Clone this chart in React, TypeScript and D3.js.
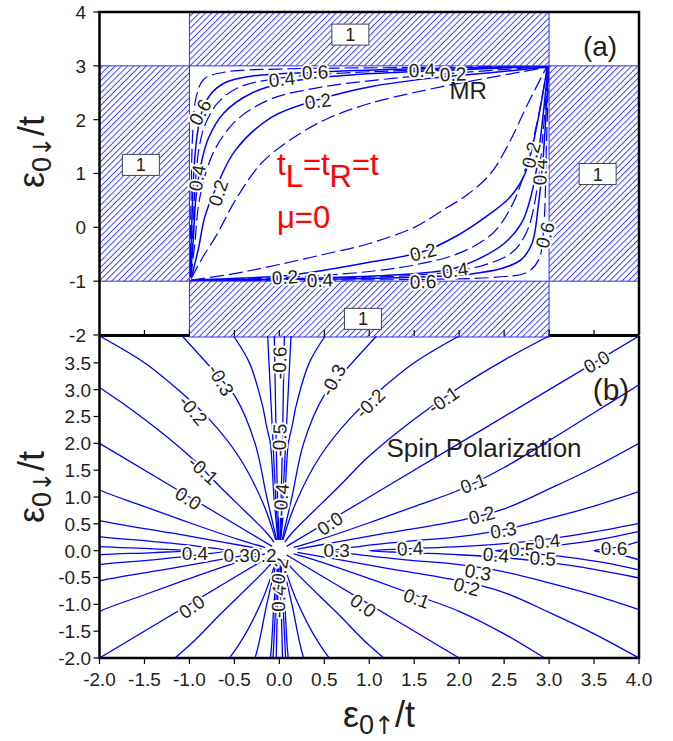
import React from "react";
import * as d3 from "d3";

type Pt = [number, number];

// ---------- axis ticks ----------
const xTickValues = [-2, -1.5, -1, -0.5, 0, 0.5, 1, 1.5, 2, 2.5, 3, 3.5, 4];
const xTickLabels = ["-2.0", "-1.5", "-1.0", "-0.5", "0.0", "0.5", "1.0", "1.5", "2.0", "2.5", "3.0", "3.5", "4.0"];
const yTickValuesA = [4, 3, 2, 1, 0, -1, -2];
const yTickLabelsA = ["4", "3", "2", "1", "0", "-1", "-2"];
const yTickValuesB = [3.5, 3, 2.5, 2, 1.5, 1, 0.5, 0, -0.5, -1, -1.5, -2];
const yTickLabelsB = ["3.5", "3.0", "2.5", "2.0", "1.5", "1.0", "0.5", "0.0", "-0.5", "-1.0", "-1.5", "-2.0"];

// ---------- panel (a): MR ----------
// regions where MR = 1 (ε0↑ range, ε0↓ range)
const mrSaturated = [
  { x0: -1, x1: 3, y0: 3, y1: 4 },
  { x0: -2, x1: -1, y0: -1, y1: 3 },
  { x0: 3, x1: 4, y0: -1, y1: 3 },
  { x0: -1, x1: 3, y0: -2, y1: -1 },
];
const mrSaturatedTags: { x: number; y: number; text: string }[] = [
  { x: 0.79, y: 3.58, text: "1" },
  { x: -1.54, y: 1.16, text: "1" },
  { x: 3.54, y: 0.99, text: "1" },
  { x: 0.93, y: -1.7, text: "1" },
];

// MR contours bending round the corner (ε0↑, ε0↓) = (-1, 3)
const mrUpperLeft: { level: number; pts: Pt[] }[] = [
  { level: 0.1, pts: [[-0.98, -0.95], [-0.85, -0.55], [-0.7, -0.15], [-0.49, 0.5], [-0.2, 1.19], [0.17, 1.68], [0.55, 2.03], [1.0, 2.3], [1.6, 2.54], [2.3, 2.77], [2.97, 2.97]] },
  { level: 0.2, pts: [[-0.98, -0.94], [-0.9, -0.4], [-0.83, 0.19], [-0.7, 0.75], [-0.49, 1.43], [-0.08, 2.05], [0.43, 2.37], [1.04, 2.62], [1.68, 2.77], [2.4, 2.88], [2.98, 2.98]] },
  { level: 0.3, pts: [[-0.985, -0.93], [-0.94, -0.3], [-0.9, 0.4], [-0.82, 1.0], [-0.7, 1.5], [-0.47, 2.0], [-0.1, 2.38], [0.45, 2.6], [1.1, 2.74], [1.9, 2.86], [2.985, 2.985]] },
  { level: 0.4, pts: [[-0.99, -0.92], [-0.96, -0.3], [-0.93, 0.5], [-0.88, 1.1], [-0.79, 1.65], [-0.62, 2.12], [-0.3, 2.5], [0.1, 2.7], [0.8, 2.83], [1.6, 2.9], [2.99, 2.99]] },
  { level: 0.5, pts: [[-0.99, -0.92], [-0.965, -0.2], [-0.935, 0.8], [-0.89, 1.5], [-0.82, 1.93], [-0.68, 2.32], [-0.45, 2.6], [-0.05, 2.76], [0.7, 2.865], [1.7, 2.93], [2.993, 2.993]] },
  { level: 0.6, pts: [[-0.994, -0.92], [-0.975, 0.0], [-0.952, 1.0], [-0.915, 1.7], [-0.865, 2.13], [-0.76, 2.48], [-0.6, 2.69], [-0.3, 2.81], [0.4, 2.88], [1.2, 2.93], [2.996, 2.996]] },
  { level: 0.7, pts: [[-0.997, -0.92], [-0.982, 0.5], [-0.962, 1.8], [-0.925, 2.42], [-0.84, 2.75], [-0.6, 2.885], [0.0, 2.94], [1.5, 2.97], [2.998, 2.998]] },
];

// MR contours bending round the corner (ε0↑, ε0↓) = (3, -1)
const mrLowerRight: { level: number; pts: Pt[] }[] = [
  { level: 0.1, pts: [[-0.98, -0.98], [-0.5, -0.86], [-0.03, -0.7], [0.5, -0.5], [1.0, -0.3], [1.5, 0.0], [1.8, 0.3], [2.1, 0.62], [2.35, 1.0], [2.55, 1.55], [2.75, 2.25], [2.97, 2.97]] },
  { level: 0.2, pts: [[-0.98, -0.98], [-0.4, -0.94], [0.06, -0.9], [0.6, -0.77], [1.0, -0.65], [1.6, -0.45], [1.95, -0.18], [2.3, 0.2], [2.56, 0.55], [2.72, 0.95], [2.8, 1.4], [2.9, 2.2], [2.98, 2.98]] },
  { level: 0.3, pts: [[-0.985, -0.985], [-0.3, -0.955], [0.4, -0.9], [1.0, -0.82], [1.5, -0.7], [2.0, -0.48], [2.38, -0.1], [2.6, 0.45], [2.74, 1.1], [2.86, 1.9], [2.985, 2.985]] },
  { level: 0.4, pts: [[-0.99, -0.99], [-0.3, -0.97], [0.45, -0.94], [1.1, -0.9], [1.65, -0.84], [1.95, -0.76], [2.2, -0.6], [2.5, -0.3], [2.7, 0.1], [2.83, 0.8], [2.9, 1.6], [2.99, 2.99]] },
  { level: 0.5, pts: [[-0.993, -0.99], [-0.2, -0.965], [0.8, -0.935], [1.5, -0.89], [1.93, -0.82], [2.32, -0.68], [2.6, -0.45], [2.76, -0.05], [2.865, 0.7], [2.93, 1.7], [2.993, 2.993]] },
  { level: 0.6, pts: [[-0.996, -0.994], [0.0, -0.975], [1.0, -0.952], [1.7, -0.915], [2.13, -0.865], [2.48, -0.76], [2.69, -0.6], [2.81, -0.3], [2.88, 0.4], [2.93, 1.2], [2.996, 2.996]] },
  { level: 0.7, pts: [[-0.998, -0.997], [0.5, -0.982], [1.8, -0.962], [2.42, -0.925], [2.75, -0.84], [2.885, -0.6], [2.94, 0.0], [2.97, 1.5], [2.998, 2.998]] },
];

// contour value labels for panel (a): [ε0↑, ε0↓, angle]
const mrLabels: { text: string; x: number; y: number; angle: number }[] = [
  { text: "0.6", x: -0.882, y: 2.14, angle: -62 },
  { text: "0.4", x: -0.916, y: 0.92, angle: -80 },
  { text: "0.2", x: -0.682, y: 0.64, angle: -72 },
  { text: "0.4", x: 0.03, y: 2.755, angle: -6 },
  { text: "0.6", x: 0.397, y: 2.885, angle: -3 },
  { text: "0.2", x: 0.43, y: 2.347, angle: -8 },
  { text: "0.4", x: 1.587, y: 2.923, angle: -2 },
  { text: "0.2", x: 1.932, y: 2.848, angle: -2 },
  { text: "0.2", x: 0.063, y: -0.923, angle: -4 },
  { text: "0.4", x: 0.452, y: -0.979, angle: -2 },
  { text: "0.2", x: 1.598, y: -0.459, angle: -14 },
  { text: "0.4", x: 1.954, y: -0.793, angle: -8 },
  { text: "0.6", x: 1.598, y: -1.005, angle: -2 },
  { text: "0.6", x: 2.954, y: -0.143, angle: -75 },
  { text: "0.4", x: 2.899, y: 1.028, angle: -88 },
  { text: "0.2", x: 2.799, y: 1.343, angle: -75 },
];

// ---------- panel (b): spin polarization ----------
// contours in the quadrant ε0↑ ≥ 0, ε0↓ ≥ 0; the map is even in both energies
// "ridge" contours close on the ε0↓ = 0 axis
const spQuadrant: { level: number; ridge: boolean; pts: Pt[] }[] = [
  { level: -0.6, ridge: false, pts: [[0.005, 0.2], [0.02, 1.0], [0.035, 2.0], [0.045, 3.0], [0.056, 4.0]] },
  { level: -0.5, ridge: false, pts: [[0.01, 0.2], [0.04, 1.0], [0.07, 2.0], [0.1, 3.0], [0.13, 4.0]] },
  { level: -0.4, ridge: false, pts: [[0.015, 0.2], [0.06, 1.0], [0.1, 2.0], [0.14, 2.3], [0.19, 2.72], [0.33, 3.49], [0.51, 4.0]] },
  { level: -0.3, ridge: false, pts: [[0.03, 0.2], [0.14, 1.0], [0.27, 2.0], [0.49, 2.87], [0.64, 3.18], [1.08, 4.0]] },
  { level: -0.2, ridge: false, pts: [[0.04, 0.2], [0.18, 0.88], [0.45, 1.75], [0.79, 2.47], [1.1, 2.96], [1.5, 3.5], [2.0, 4.0]] },
  { level: -0.1, ridge: false, pts: [[0.06, 0.16], [0.14, 0.33], [0.66, 1.19], [0.99, 1.75], [1.5, 2.45], [2.0, 3.04], [2.5, 3.55], [3.0, 4.0]] },
  { level: 0.0, ridge: false, pts: [[0.08, 0.08], [1.0, 1.0], [2.0, 2.0], [4.0, 4.0]] },
  { level: 0.1, ridge: false, pts: [[0.16, 0.06], [0.44, 0.2], [1.0, 0.52], [1.53, 0.84], [2.0, 1.13], [2.5, 1.55], [3.0, 2.05], [3.5, 2.57], [4.0, 3.09]] },
  { level: 0.2, ridge: false, pts: [[0.2, 0.03], [0.6, 0.15], [1.2, 0.33], [2.0, 0.56], [2.5, 0.78], [3.0, 1.15], [3.5, 1.55], [4.0, 2.0]] },
  { level: 0.3, ridge: true, pts: [[0.6, 0.0], [0.9, 0.08], [1.4, 0.17], [2.0, 0.26], [2.49, 0.39], [3.0, 0.6], [3.5, 0.83], [4.0, 1.1]] },
  { level: 0.4, ridge: true, pts: [[1.0, 0.0], [1.4, 0.035], [2.0, 0.076], [2.5, 0.13], [3.0, 0.22], [3.5, 0.35], [4.0, 0.51]] },
  { level: 0.5, ridge: true, pts: [[2.4, 0.0], [2.8, 0.05], [3.2, 0.12], [3.6, 0.22], [4.0, 0.36]] },
  { level: 0.6, ridge: true, pts: [[3.5, 0.0], [3.75, 0.06], [4.0, 0.17]] },
];

const spLabels: { text: string; x: number; y: number; angle: number }[] = [
  { text: "-0.3", x: -0.649, y: 3.18, angle: 60 },
  { text: "-0.2", x: -0.957, y: 2.62, angle: 50 },
  { text: "-0.1", x: -0.846, y: 1.5, angle: 42 },
  { text: "0.0", x: -1.012, y: 0.976, angle: 32 },
  { text: "-0.6", x: 0.0, y: 3.5, angle: -88 },
  { text: "-0.5", x: 0.0, y: 2.06, angle: -88 },
  { text: "-0.4", x: 0.018, y: 0.944, angle: -85 },
  { text: "-0.3", x: 0.597, y: 3.18, angle: -62 },
  { text: "-0.2", x: 1.008, y: 2.746, angle: -45 },
  { text: "-0.1", x: 1.823, y: 2.81, angle: -35 },
  { text: "0.0", x: 3.529, y: 3.52, angle: -30 },
  { text: "0.0", x: 0.563, y: 0.51, angle: -35 },
  { text: "0.1", x: 2.157, y: 1.256, angle: -20 },
  { text: "0.2", x: 2.25, y: 0.665, angle: -15 },
  { text: "0.3", x: 2.49, y: 0.385, angle: -10 },
  { text: "0.4", x: 2.977, y: 0.18, angle: -5 },
  { text: "0.3", x: 0.638, y: 0.015, angle: 0 },
  { text: "0.4", x: 1.453, y: 0.044, angle: -3 },
  { text: "0.3", x: 2.21, y: -0.4, angle: 10 },
  { text: "0.4", x: 2.41, y: -0.08, angle: 5 },
  { text: "0.5", x: 2.7, y: 0.03, angle: 0 },
  { text: "0.5", x: 2.93, y: -0.14, angle: 3 },
  { text: "0.6", x: 3.722, y: 0.05, angle: 0 },
  { text: "0.2", x: 2.084, y: -0.67, angle: 15 },
  { text: "0.1", x: 1.528, y: -0.887, angle: 20 },
  { text: "0.0", x: 0.934, y: -1.02, angle: 35 },
  { text: "0.0", x: -0.975, y: -1.044, angle: -35 },
  { text: "-0.4", x: -0.011, y: -0.95, angle: -88 },
  { text: "-0.2", x: -0.004, y: -0.435, angle: -80 },
  { text: "0.4", x: -0.938, y: -0.05, angle: 0 },
  { text: "0.3", x: -0.474, y: -0.08, angle: 0 },
  { text: "0.2", x: -0.178, y: -0.08, angle: 0 },
];

// ---------- layout ----------
const W = 673;
const H = 741;
const LEFT = 99.5;
const RIGHT = 639;
const A_TOP = 12;
const A_BOTTOM = 335;
const B_TOP = 336;
const B_BOTTOM = 658;

const FONT = "'Liberation Sans', Arial, Helvetica, sans-serif";
const ARROW_FONT = "'DejaVu Sans', sans-serif";
const INK = "#231f20";
const BLUE = "#0000ff";
const HATCH = "#2f2fff";
const HATCH_STEP = 4.4;

const x = d3.scaleLinear().domain([-2, 4]).range([LEFT, RIGHT]);
const yA = d3.scaleLinear().domain([-2, 4]).range([A_BOTTOM, A_TOP]);
const yB = d3.scaleLinear().domain([-2, 4]).range([B_BOTTOM, B_TOP]);

const lineA = d3
  .line<Pt>()
  .x((d) => x(d[0]))
  .y((d) => yA(d[1]))
  .curve(d3.curveCatmullRom.alpha(0.5));
const lineB = d3
  .line<Pt>()
  .x((d) => x(d[0]))
  .y((d) => yB(d[1]))
  .curve(d3.curveCatmullRom.alpha(0.5));

// reflect the quadrant contours into all four quadrants
function spPaths(): { level: number; pts: Pt[] }[] {
  const out: { level: number; pts: Pt[] }[] = [];
  for (const c of spQuadrant) {
    for (const sx of [1, -1]) {
      const up: Pt[] = c.pts.map(([a, b]) => [sx * a, b]);
      const down: Pt[] = c.pts.map(([a, b]) => [sx * a, -b]);
      if (c.ridge) {
        out.push({ level: c.level, pts: [...down.slice().reverse(), ...up.slice(1)] });
      } else {
        out.push({ level: c.level, pts: up });
        out.push({ level: c.level, pts: down });
      }
    }
  }
  return out;
}

const isDashed = (level: number) => Math.round(level * 10) % 2 === 1;

function ContourLabel({ px, py, text, angle, size }: { px: number; py: number; text: string; angle: number; size: number }) {
  return (
    <text
      x={px}
      y={py}
      dy="0.36em"
      transform={`rotate(${angle},${px},${py})`}
      textAnchor="middle"
      fontSize={size}
      fontFamily={FONT}
      fill={INK}
      stroke="#ffffff"
      strokeWidth={4}
      strokeLinejoin="round"
      paintOrder="stroke"
    >
      {text}
    </text>
  );
}

function EnergyTitle({ arrow }: { arrow: string }) {
  return (
    <>
      ε
      <tspan fontSize={27} dy={7}>
        0
      </tspan>
      <tspan fontSize={25} fontFamily={ARROW_FONT}>
        {arrow}
      </tspan>
      <tspan dy={-7}>/t</tspan>
    </>
  );
}

export default function App() {
  const bPaths = spPaths();
  return (
    <svg width={W} height={H} viewBox={`0 0 ${W} ${H}`} style={{ display: "block", position: "absolute", left: 0, top: 0 }}>
      <defs>
        <pattern id="hatch" patternUnits="userSpaceOnUse" width={HATCH_STEP} height={HATCH_STEP} patternTransform="rotate(45)">
          <rect x={0} y={0} width={HATCH_STEP} height={HATCH_STEP} fill="#ffffff" />
          <line x1={0.5} y1={0} x2={0.5} y2={HATCH_STEP} stroke={HATCH} strokeWidth={0.9} />
        </pattern>
        <clipPath id="clipB">
          <rect x={LEFT} y={B_TOP} width={RIGHT - LEFT} height={B_BOTTOM - B_TOP} />
        </clipPath>
      </defs>
      <rect x={0} y={0} width={W} height={H} fill="#ffffff" />

      {/* ---------- panel (a) ---------- */}
      <g fill="none">
        {[...mrUpperLeft, ...mrLowerRight].map((c, i) => (
          <path
            key={`mr${i}`}
            d={lineA(c.pts) || ""}
            stroke={BLUE}
            strokeWidth={isDashed(c.level) ? 1.2 : 1.5}
            strokeDasharray={isDashed(c.level) ? "14,5" : undefined}
          />
        ))}
      </g>

      {/* shared border between the panels */}
      <line x1={LEFT} x2={RIGHT} y1={B_TOP - 0.5} y2={B_TOP - 0.5} stroke="#000" strokeWidth={3} />

      {mrSaturated.map((r, i) => {
        const x0 = x(r.x0);
        const x1 = x(r.x1);
        const top = yA(r.y1);
        const bottom = r.y0 === -2 ? B_TOP + 1 : yA(r.y0);
        return (
          <rect key={`sat${i}`} x={x0} y={top} width={x1 - x0} height={bottom - top} fill="url(#hatch)" stroke={HATCH} strokeWidth={1} />
        );
      })}

      {mrSaturatedTags.map((t, i) => (
        <g key={`tag${i}`}>
          <rect x={x(t.x) - 18.5} y={yA(t.y) - 10.5} width={37} height={21} fill="#ffffff" stroke="#444" strokeWidth={1} />
          <text x={x(t.x)} y={yA(t.y)} dy="0.36em" textAnchor="middle" fontSize={18} fontFamily={FONT} fill={INK}>
            {t.text}
          </text>
        </g>
      ))}

      {mrLabels.map((l, i) => (
        <ContourLabel key={`mrl${i}`} px={x(l.x)} py={yA(l.y)} text={l.text} angle={l.angle} size={19} />
      ))}

      {/* panel (a) frame */}
      <path d={`M${LEFT},${B_TOP - 1} V${A_TOP} H${RIGHT} V${B_TOP - 1}`} fill="none" stroke="#000" strokeWidth={2.5} />

      {/* panel (a) texts */}
      <text x={x(2.1)} y={yA(2.38)} textAnchor="middle" fontSize={24} fontFamily={FONT} fill={INK}>
        MR
      </text>
      <text x={600} y={56} textAnchor="middle" fontSize={28} fontFamily={FONT} fill={INK}>
        (a)
      </text>
      <text x={277} y={175} fontSize={31} fontFamily={FONT} fill="#ff0000">
        t<tspan dy={12}>L</tspan>
        <tspan dy={-12}>=t</tspan>
        <tspan dy={12}>R</tspan>
        <tspan dy={-12}>=t</tspan>
      </text>
      <text x={277} y={228} fontSize={31} fontFamily={FONT} fill="#ff0000">
        μ=0
      </text>

      {/* panel (a) left axis */}
      {yTickValuesA.map((v, i) => (
        <g key={`ya${i}`}>
          <line x1={LEFT - 6} x2={LEFT} y1={yA(v)} y2={yA(v)} stroke="#000" strokeWidth={1.2} />
          <text x={86} y={yA(v)} dy="0.36em" textAnchor="end" fontSize={19} fontFamily={FONT} fill={INK}>
            {yTickLabelsA[i]}
          </text>
        </g>
      ))}

      {/* ---------- panel (b) ---------- */}
      <g clipPath="url(#clipB)" fill="none">
        {bPaths.map((c, i) => (
          <path key={`sp${i}`} d={lineB(c.pts) || ""} stroke={BLUE} strokeWidth={1.3} />
        ))}
      </g>

      {spLabels.map((l, i) => (
        <ContourLabel key={`spl${i}`} px={x(l.x)} py={yB(l.y)} text={l.text} angle={l.angle} size={19} />
      ))}

      <text x={484} y={457} textAnchor="middle" fontSize={26} fontFamily={FONT} fill={INK}>
        Spin Polarization
      </text>
      <text x={611} y={400} textAnchor="middle" fontSize={30} fontFamily={FONT} fill={INK}>
        (b)
      </text>

      {/* panel (b) frame */}
      <path d={`M${LEFT},${B_TOP} V${B_BOTTOM} H${RIGHT} V${B_TOP}`} fill="none" stroke="#000" strokeWidth={2.5} />

      {/* panel (b) top ticks */}
      {xTickValues.map((v, i) => (
        <line key={`xt${i}`} x1={x(v)} x2={x(v)} y1={B_TOP - 6} y2={B_TOP} stroke="#000" strokeWidth={1.2} />
      ))}
      {/* panel (b) bottom axis */}
      {xTickValues.map((v, i) => (
        <g key={`xb${i}`}>
          <line x1={x(v)} x2={x(v)} y1={B_BOTTOM} y2={B_BOTTOM + 6} stroke="#000" strokeWidth={1.2} />
          <text x={x(v)} y={686} textAnchor="middle" fontSize={19} fontFamily={FONT} fill={INK}>
            {xTickLabels[i]}
          </text>
        </g>
      ))}
      {/* panel (b) left axis */}
      {yTickValuesB.map((v, i) => (
        <g key={`yb${i}`}>
          <line x1={LEFT - 6} x2={LEFT} y1={yB(v)} y2={yB(v)} stroke="#000" strokeWidth={1.2} />
          <text x={91} y={yB(v)} dy="0.36em" textAnchor="end" fontSize={19} fontFamily={FONT} fill={INK}>
            {yTickLabelsB[i]}
          </text>
        </g>
      ))}

      {/* axis titles */}
      <text x={343} y={727} fontSize={36} fontFamily={FONT} fill={INK}>
        <EnergyTitle arrow="↑" />
      </text>
      {[152, 487].map((cy, i) => (
        <text key={`yt${i}`} x={0} y={0} transform={`translate(44,${cy}) rotate(-90)`} textAnchor="middle" fontSize={36} fontFamily={FONT} fill={INK}>
          <EnergyTitle arrow="↓" />
        </text>
      ))}
    </svg>
  );
}
